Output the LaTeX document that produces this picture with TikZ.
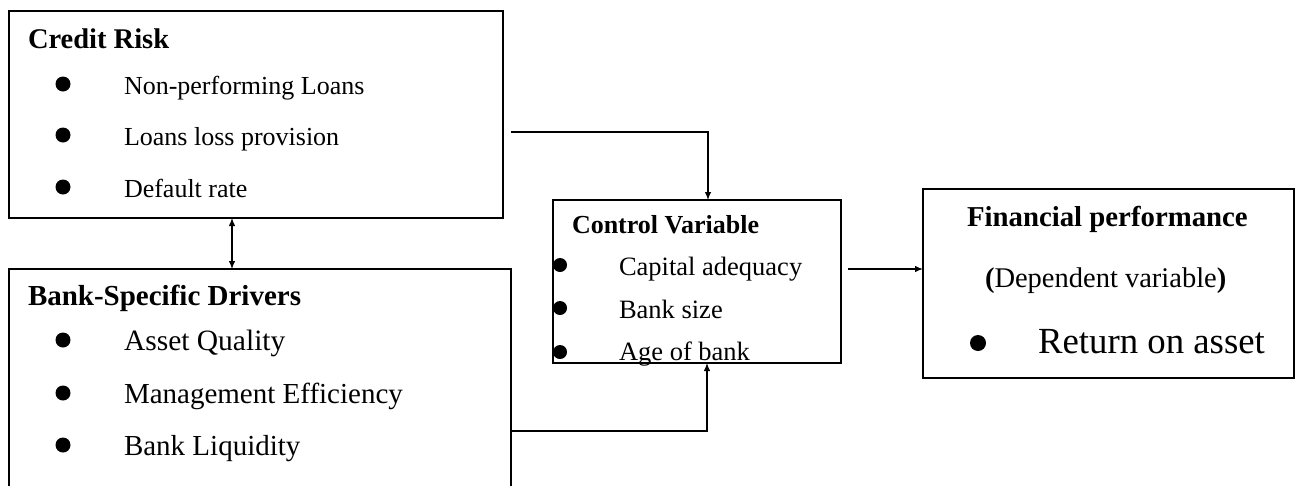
\documentclass[tikz,border=0pt]{standalone}
\usepackage{fontspec}
\setmainfont{Liberation Serif}
\usetikzlibrary{arrows.meta}
\newcommand{\fsz}[1]{\fontsize{#1}{#1}\selectfont}
\begin{document}
\begin{tikzpicture}[x=1pt,y=-1pt,
  box/.style={draw, line width=1.8pt, inner sep=0pt, outer sep=0pt},
  txt/.style={anchor=base west, inner sep=0pt, outer sep=0pt},
  dot/.style={circle, fill=black, inner sep=0pt, minimum size=15pt},
  conn/.style={line width=1.2pt, -{Latex[length=8pt,width=6.5pt]}},
  dconn/.style={line width=1.2pt, {Latex[length=8pt,width=6.5pt]}-{Latex[length=8pt,width=6.5pt]}}]
\useasboundingbox (0,0) rectangle (1298,485);
\fill[white] (0,0) rectangle (1298,485);

% boxes
\node[box, minimum width=494pt, minimum height=207pt] (cr) at (256,114.5) {};
\node[box, minimum width=502pt, minimum height=324pt] (bk) at (260,431) {};
\node[box, minimum width=288pt, minimum height=163pt] (ct) at (697,281.5) {};
\node[box, minimum width=371pt, minimum height=189pt] (fp) at (1108.5,283.5) {};

% Credit Risk
\node[txt] (crt) at (28,48) {\fsz{28.5}\textbf{Credit Risk}};
\node[dot] (crb1) at (63,84) {};
\node[dot] (crb2) at (63,135) {};
\node[dot] (crb3) at (63,187) {};
\node[txt] (cr1) at (124,94) {\fsz{26}Non-performing Loans};
\node[txt] (cr2) at (124,145) {\fsz{26}Loans loss provision};
\node[txt] (cr3) at (124,197) {\fsz{26}Default rate};

% Bank-Specific Drivers
\node[txt] (bkt) at (28,305) {\fsz{29}\textbf{Bank-Specific Drivers}};
\node[dot] (bkb1) at (63,340) {};
\node[dot] (bkb2) at (63,393) {};
\node[dot] (bkb3) at (63,445) {};
\node[txt] (bk1) at (124,350) {\fsz{29.5}Asset Quality};
\node[txt] (bk2) at (124,403) {\fsz{29}Management Efficiency};
\node[txt] (bk3) at (124,455) {\fsz{29}Bank Liquidity};

% Control Variable
\node[txt] (ctt) at (572,233) {\fsz{26}\textbf{Control Variable}};
\node[dot, minimum size=14pt] (ctb1) at (560,265) {};
\node[dot, minimum size=14pt] (ctb2) at (560,308) {};
\node[dot, minimum size=14pt] (ctb3) at (560,352) {};
\node[txt] (ct1) at (619,275) {\fsz{26.5}Capital adequacy};
\node[txt] (ct2) at (619,318) {\fsz{26.5}Bank size};
\node[txt] (ct3) at (619,360) {\fsz{26.5}Age of bank};

% Financial performance
\node[txt] (fpt) at (967,226) {\fsz{28.8}\textbf{Financial performance}};
\node[txt] (fpd) at (985,287) {\fsz{28.5}\textbf{(}Dependent variable\textbf{)}};
\node[dot, minimum size=16pt] (fpb) at (978,343) {};
\node[txt] (fpr) at (1038,353) {\fsz{36.8}Return on asset};

% connectors
\coordinate (c1) at ([shift={(8pt,-17.5pt)}]cr.east);
\draw[conn] (c1) -| ([xshift=11pt]ct.north);
\draw[conn] (bk.east) -| ([xshift=10pt]ct.south);
\coordinate (cf) at ([shift={(7pt,12.5pt)}]ct.east);
\draw[conn] (cf) -- (fp.west |- cf);
\coordinate (d1) at ([xshift=-24pt]cr.south);
\draw[dconn] (d1) -- (bk.north -| d1);
\end{tikzpicture}
\end{document}
